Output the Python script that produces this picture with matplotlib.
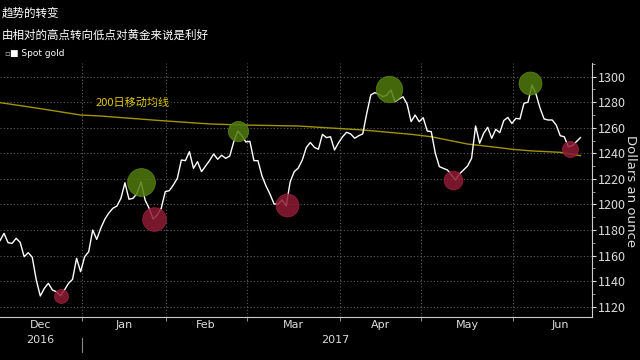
import matplotlib
matplotlib.use('Agg')
import matplotlib.pyplot as plt
import matplotlib.transforms as mtransforms
import numpy as np

plt.rcParams['font.family'] = ['Noto Sans CJK SC', 'DejaVu Sans']

# Spot gold, one value per trading day (Dec 2016 - Jun 2017)
gold = [1171.7, 1177.4, 1170.1, 1169.6, 1173.5, 1170.4, 1159.1, 1162.3, 1158.7, 1140.9,
        1128.4, 1134.4, 1138.3, 1133.1, 1131.7, 1128.6, 1133.1, 1138.3, 1141.4, 1157.9,
        1147.4, 1159.1, 1163.0, 1180.0, 1172.7, 1181.4, 1188.4, 1193.3, 1197.0, 1198.8,
        1204.8, 1217.0, 1204.1, 1204.8, 1208.7, 1217.8, 1203.5, 1197.0, 1188.6, 1191.8,
        1197.0, 1210.0, 1210.8, 1215.2, 1220.5, 1234.8, 1234.3, 1241.3, 1228.3, 1233.5,
        1225.7, 1230.1, 1234.4, 1239.5, 1235.4, 1238.5, 1236.1, 1237.9, 1249.1, 1257.5,
        1253.8, 1248.9, 1249.4, 1234.3, 1234.3, 1222.3, 1214.5, 1208.0, 1200.4, 1200.4,
        1203.5, 1198.8, 1217.8, 1225.7, 1228.5, 1234.8, 1244.6, 1248.5, 1244.7, 1243.2,
        1254.9, 1252.3, 1253.0, 1242.6, 1248.3, 1253.0, 1256.5, 1255.2, 1251.8, 1253.8,
        1255.2, 1271.4, 1285.7, 1287.5, 1286.2, 1284.3, 1285.7, 1289.6, 1280.4, 1282.5,
        1284.3, 1278.6, 1264.8, 1270.0, 1264.8, 1267.9, 1257.5, 1257.0, 1240.1, 1229.6,
        1228.3, 1227.0, 1223.1, 1219.2, 1223.9, 1227.0, 1230.1, 1236.1, 1261.4, 1247.9,
        1255.7, 1260.4, 1251.8, 1258.8, 1256.2, 1265.7, 1268.1, 1263.4, 1267.4, 1266.9,
        1279.2, 1280.0, 1293.5, 1286.2, 1275.3, 1266.9, 1266.1, 1266.1, 1262.2, 1253.8,
        1253.0, 1245.2, 1246.0, 1249.1, 1252.3]

# 200-day moving average (read at a few trading days)
ma_day = [0, 10, 20, 25, 40, 52, 60, 74, 90, 102, 107, 116, 124, 127, 132, 139, 144]
ma_val = [1279.7, 1275.0, 1270.0, 1269.2, 1265.6, 1263.0, 1262.2, 1261.4, 1258.3,
          1254.9, 1253.0, 1247.3, 1244.4, 1243.2, 1241.9, 1240.8, 1238.2]

# highlighted highs / lows: trading day, price, marker size
high_day = [35.1, 59.1, 96.4, 131.4]
high_val = [1217.8, 1257.7, 1290.1, 1294.8]
high_size = [20, 14.5, 19, 16.5]
low_day = [15.1, 38.1, 71.3, 112.4, 141.5]
low_val = [1128.6, 1188.4, 1199.4, 1219.2, 1243.2]
low_size = [10, 17, 16.5, 13.5, 11.5]

# month boundaries (trading-day index) and labels
month_edges = [0, 20.4, 41.1, 61.2, 84.4, 104.4, 127.4, 150.5]
months = ['Dec', 'Jan', 'Feb', 'Mar', 'Apr', 'May', 'Jun']

fig = plt.figure(figsize=(6.4, 3.6), dpi=100, facecolor='black')
ax = fig.add_axes([0, 0.1203, 0.9245, 0.7047])
ax.set_facecolor('black')

days = np.arange(len(gold))
ax.plot(ma_day, ma_val, color='#a09400', lw=1.0, zorder=3)
ax.plot(days, gold, color='white', lw=1.0, zorder=4)

for d, v, s in zip(high_day, high_val, high_size):
    ax.plot(d, v, 'o', ms=s, color='#4f7a0c', mec='#5c8a10', mew=0.6, alpha=0.85, zorder=5)
for d, v, s in zip(low_day, low_val, low_size):
    ax.plot(d, v, 'o', ms=s, color='#8e1b33', mec='#a02040', mew=0.6, alpha=0.85, zorder=5)

ax.set_xlim(0, 146.8)
ax.set_ylim(1112.2, 1310.7)

# y axis on the right
ax.yaxis.tick_right()
ax.set_yticks(np.arange(1120, 1301, 20))
ax.set_yticks(np.arange(1120, 1311, 10), minor=True)
ax.tick_params(axis='y', which='major', colors='#dddddd', labelsize=9, length=3, pad=1.5)
ax.tick_params(axis='y', which='minor', colors='#aaaaaa', length=2)

ax.set_xticks(month_edges[1:-1])
ax.set_xticklabels([])
ax.tick_params(axis='x', colors='#888888', length=3)

ax.grid(True, which='major', color='#5e5e5e', ls=(0, (1, 2)), lw=0.8)

for side in ['top', 'left']:
    ax.spines[side].set_visible(False)
ax.spines['right'].set_color('#cccccc')
ax.spines['bottom'].set_color('#cccccc')

# month labels centred in each month
trans = mtransforms.blended_transform_factory(ax.transData, fig.transFigure)
for i, m in enumerate(months):
    mid = (month_edges[i] + month_edges[i + 1]) / 2
    ax.text(mid, 0.097, m, transform=trans, ha='center', va='center',
            color='#dddddd', fontsize=8, family='DejaVu Sans')
ax.text(month_edges[0] + 10, 0.055, '2016', transform=trans, ha='center', va='center',
        color='#dddddd', fontsize=8, family='DejaVu Sans')
ax.text(83.2, 0.055, '2017', transform=trans, ha='center', va='center',
        color='#dddddd', fontsize=8, family='DejaVu Sans')
ax.plot([month_edges[1], month_edges[1]], [0.022, 0.062], transform=trans,
        color='#888888', lw=0.8, clip_on=False)

ax.text(32.8, 1280, '200日移动均线', color='#e0c800', fontsize=8, ha='center', va='center',
        bbox=dict(facecolor='black', edgecolor='none', pad=1.5), zorder=6)

fig.text(0.995, 0.47, 'Dollars an ounce', rotation=270, color='#dddddd', fontsize=9.5,
         ha='right', va='center', family='DejaVu Sans')

fig.text(0.003, 0.963, '趋势的转变', color='white', fontsize=8.3, ha='left', va='center')
fig.text(0.003, 0.902, '由相对的高点转向低点对黄金来说是利好', color='white', fontsize=8.3,
         ha='left', va='center')
fig.text(0.006, 0.852, '▫', color='#bbbbbb', fontsize=6, ha='left', va='center',
         family='DejaVu Sans')
fig.text(0.015, 0.852, '■ Spot gold', color='white', fontsize=6.5, ha='left', va='center',
         family='DejaVu Sans')

fig.savefig('out.png', dpi=100, facecolor='black')
